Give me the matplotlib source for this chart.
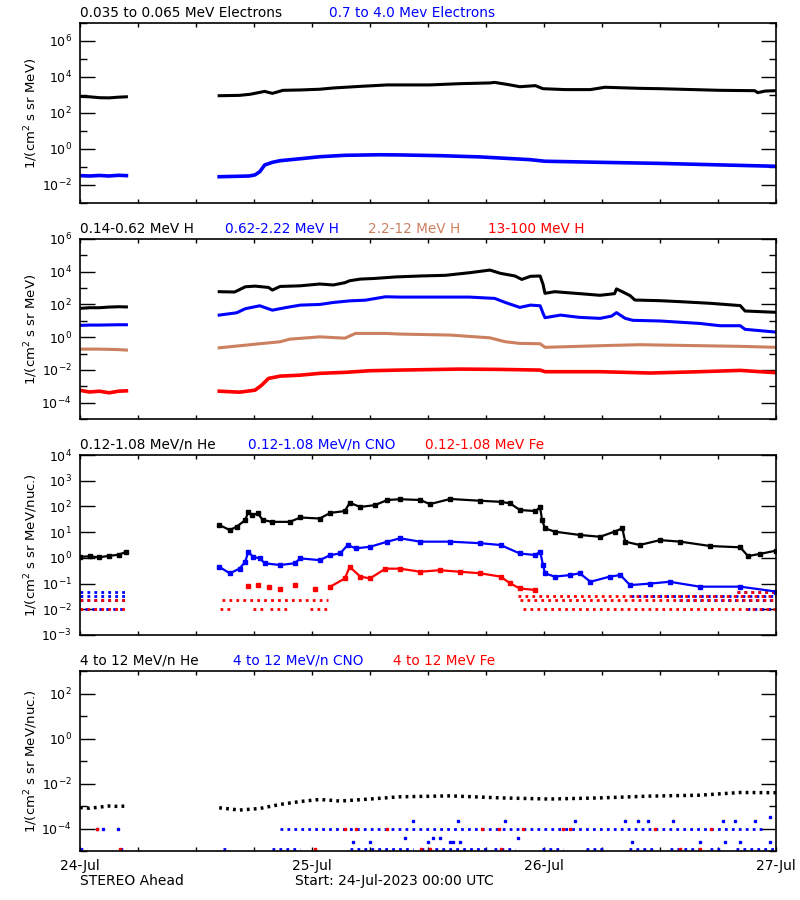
import numpy as np
import matplotlib
matplotlib.use('Agg')
import matplotlib.pyplot as plt
from matplotlib.ticker import FixedLocator, NullFormatter, NullLocator, LogFormatterMathtext

nan = np.nan

# ---------------- data (time in hours from 24-Jul-2023 00:00, values as log10) -------------
# Panel 1: electrons
elec_lo_t = [0, 1, 2, 3, 4, 4.8, 9.6, 14.4, 16.5, 17.6, 19.1, 19.9, 21.0, 22.8, 24.8, 26.2, 29.0, 31.8,
             36.2, 39.3, 42.4, 42.9, 44.5, 45.5, 47.1, 47.9, 50.2, 52.8, 54.3, 57.9, 60.0, 66.2, 69.8,
             70.1, 70.9, 72]
elec_lo_v = [2.92, 2.90, 2.85, 2.84, 2.88, 2.90, nan, 2.96, 2.98, 3.04, 3.20, 3.09, 3.26, 3.28, 3.32,
             3.39, 3.48, 3.56, 3.56, 3.63, 3.67, 3.70, 3.56, 3.46, 3.52, 3.35, 3.30, 3.30, 3.43, 3.37,
             3.35, 3.26, 3.24, 3.13, 3.22, 3.24]
elec_hi_t = [0, 1, 2, 3, 4, 4.8, 9.6, 14.4, 16.0, 17.5, 18.1, 18.6, 19.1, 19.9, 20.7, 22.8, 24.8, 27.4,
             31.0, 33.1, 37.2, 41.4, 46.5, 48.1, 53.8, 60.0, 65.2, 72]
elec_hi_v = [-1.48, -1.50, -1.47, -1.50, -1.46, -1.48, nan, -1.54, -1.52, -1.50, -1.44, -1.26, -0.89,
             -0.74, -0.65, -0.54, -0.43, -0.35, -0.32, -0.33, -0.37, -0.44, -0.59, -0.68, -0.74, -0.80,
             -0.87, -0.96]

# Panel 2: protons
h1_t = [0, 1, 2, 3, 4, 4.8, 9.6, 14.4, 16.0, 17.1, 18.1, 19.5, 19.9, 20.7, 22.8, 24.8, 26.2, 27.4, 27.9,
        29.0, 30.5, 32.6, 35.2, 37.8, 40.3, 42.4, 43.5, 45.0, 45.7, 46.6, 47.6, 47.9, 48.1, 49.1, 51.7,
        53.8, 55.3, 55.5, 56.1, 56.9, 57.4, 60.0, 62.1, 65.2, 68.3, 68.8, 72]
h1_v = [1.76, 1.80, 1.80, 1.84, 1.86, 1.85, nan, 2.78, 2.76, 3.08, 3.12, 3.04, 2.88, 3.10, 3.14, 3.25,
        3.19, 3.33, 3.45, 3.55, 3.59, 3.68, 3.74, 3.78, 3.94, 4.10, 3.90, 3.74, 3.53, 3.72, 3.74, 3.23,
        2.68, 2.78, 2.66, 2.56, 2.66, 2.95, 2.78, 2.54, 2.27, 2.23, 2.17, 2.07, 1.93, 1.60, 1.52]
h2_t = [0, 1, 2, 3, 4, 4.8, 9.6, 14.4, 16.2, 17.1, 18.6, 19.9, 21.2, 22.8, 24.8, 26.2, 27.9, 29.5, 31.6,
        33.1, 40.3, 42.9, 44.0, 45.5, 46.6, 47.6, 47.9, 48.1, 49.7, 51.7, 53.8, 55.0, 55.5, 56.4, 57.2,
        60.0, 64.1, 66.2, 68.3, 68.8, 72]
h2_v = [0.72, 0.74, 0.74, 0.75, 0.76, 0.76, nan, 1.35, 1.49, 1.74, 1.92, 1.65, 1.80, 1.96, 2.00, 2.12,
        2.22, 2.26, 2.47, 2.45, 2.45, 2.37, 2.12, 1.82, 1.96, 1.92, 1.46, 1.19, 1.35, 1.21, 1.15, 1.29,
        1.50, 1.15, 1.03, 0.99, 0.84, 0.70, 0.70, 0.48, 0.31]
h3_t = [0, 2, 4, 4.8, 9.6, 14.4, 18.6, 20.7, 21.7, 24.8, 27.4, 28.5, 31.6, 33.1, 38.3, 42.4, 44.0, 45.5,
        47.6, 48.1, 53.8, 57.9, 64.1, 68.3, 72]
h3_v = [-0.73, -0.73, -0.76, -0.79, nan, -0.65, -0.40, -0.28, -0.12, 0.02, -0.06, 0.23, 0.23, 0.19,
        0.13, -0.04, -0.28, -0.38, -0.40, -0.62, -0.52, -0.46, -0.52, -0.56, -0.62]
h4_t = [0, 1, 2, 3, 4, 4.8, 9.6, 14.4, 16.5, 18.1, 18.8, 19.5, 20.7, 22.8, 24.8, 27.4, 30.0, 33.1, 39.3,
        43.5, 47.6, 48.1, 53.8, 59.0, 64.1, 68.3, 72]
h4_v = [-3.25, -3.35, -3.30, -3.40, -3.30, -3.28, nan, -3.30, -3.36, -3.24, -2.93, -2.52, -2.38, -2.32,
        -2.21, -2.15, -2.05, -2.01, -1.95, -1.97, -2.01, -2.11, -2.11, -2.19, -2.11, -2.03, -2.17]

# Panel 3: low-energy heavy ions
he_lo_t = [0, 1, 2, 3, 4, 4.8, 9.6, 14.4, 15.5, 16.2, 17.1, 17.4, 17.8, 18.4, 18.9, 19.9, 21.7, 22.8,
           24.8, 25.9, 27.4, 27.9, 29.0, 30.5, 31.8, 33.1, 35.2, 36.2, 38.3, 41.4, 43.5, 44.5, 45.5,
           47.1, 47.6, 47.8, 48.1, 49.1, 51.7, 53.8, 55.3, 56.1, 56.4, 57.9, 60.0, 62.1, 65.2, 68.3,
           69.1, 70.3, 72]
he_lo_v = [0.04, 0.06, 0.02, 0.08, 0.12, 0.24, nan, 1.28, 1.08, 1.21, 1.47, 1.79, 1.66, 1.73, 1.47,
           1.40, 1.40, 1.57, 1.53, 1.75, 1.82, 2.14, 1.98, 2.05, 2.25, 2.28, 2.25, 2.09, 2.29, 2.22,
           2.18, 2.12, 1.86, 1.82, 1.96, 1.47, 1.15, 1.02, 0.89, 0.82, 1.02, 1.15, 0.63, 0.50, 0.69,
           0.63, 0.46, 0.41, 0.07, 0.15, 0.28]
cno_lo_t = [14.4, 15.5, 16.5, 17.1, 17.4, 17.9, 18.6, 19.1, 20.7, 22.2, 22.8, 24.8, 25.9, 26.9, 27.7,
            28.5, 30.0, 31.8, 33.1, 35.2, 38.3, 41.4, 43.5, 45.5, 47.1, 47.6, 47.9, 48.1, 49.1, 50.7,
            51.7, 52.8, 54.8, 55.9, 56.9, 59.0, 61.0, 64.1, 68.3, 72]
cno_lo_v = [-0.35, -0.60, -0.42, -0.15, 0.24, 0.04, -0.02, -0.21, -0.28, -0.21, -0.02, -0.09, 0.11,
            0.17, 0.50, 0.37, 0.43, 0.63, 0.76, 0.63, 0.63, 0.57, 0.50, 0.17, 0.11, 0.24, -0.28, -0.60,
            -0.73, -0.67, -0.60, -0.93, -0.73, -0.67, -1.06, -1.00, -0.93, -1.12, -1.12, -1.31]
fe_lo_t = [25.9, 27.4, 27.9, 29.0, 30.0, 31.6, 33.1, 35.2, 37.2, 39.3, 41.4, 43.5, 44.5, 45.5, 47.1]
fe_lo_v = [-1.12, -0.80, -0.35, -0.73, -0.80, -0.42, -0.42, -0.54, -0.48, -0.54, -0.60, -0.73, -0.99,
           -1.19, -1.25]
fe_lo_sparse_t = [17.4, 18.4, 19.5, 20.7, 22.2, 24.3]
fe_lo_sparse_v = [-1.10, -1.05, -1.15, -1.20, -1.05, -1.20]
# count-floor rows (level, start, end)
cno_lo_floor_lvl = [-1.34, -1.47, -1.64, -1.97, -1.47, -1.64, -1.34, -1.97]
cno_lo_floor_t0 = [0.0, 0.0, 0.0, 0.5, 57.0, 62.0, 68.0, 69.0]
cno_lo_floor_t1 = [4.8, 4.8, 4.8, 4.8, 72.0, 72.0, 72.0, 72.0]
fe_lo_floor_lvl = [-1.97, -1.64, -1.97, -1.97, -1.97, -1.97, -1.64, -1.97, -1.64, -1.47, -1.34]
fe_lo_floor_t0 = [0.0, 0.0, 14.5, 17.9, 19.7, 23.8, 14.7, 45.8, 45.5, 45.3, 68.0]
fe_lo_floor_t1 = [4.8, 4.8, 15.8, 18.9, 21.4, 25.9, 25.7, 72.0, 72.0, 72.0, 72.0]

# Panel 4: high-energy heavy ions
he_hi_t = [0, 1, 2, 3, 4, 4.8, 9.6, 14.4, 16.5, 18.6, 20.7, 22.8, 24.8, 26.9, 30.0, 33.1, 38.3, 43.5,
           48.6, 53.8, 59.0, 64.1, 68.3, 72]
he_hi_v = [-3.07, -3.10, -3.05, -3.00, -3.02, -3.00, nan, -3.08, -3.18, -3.11, -2.93, -2.80, -2.71,
           -2.78, -2.69, -2.59, -2.55, -2.64, -2.69, -2.64, -2.56, -2.52, -2.40, -2.41]
cno_hi_pts_t = [1.8, 2.4, 3.9, 28.2, 30.0, 33.6, 36.5, 37.2, 45.3, 36.0, 38.3, 38.6, 39.3, 57.1, 64.1,
                66.7, 68.3, 71.4, 34.4, 39.1, 44.0, 51.2, 56.4, 57.7, 58.8, 61.3, 66.5, 67.8, 69.8, 71.4]
cno_hi_pts_v = [-4.0, -4.0, -4.0, -4.6, -4.6, -4.42, -4.42, -4.42, -4.42, -4.6, -4.6, -4.6, -4.6, -4.6,
                -4.6, -4.6, -4.6, -4.6, -3.66, -3.66, -3.66, -3.66, -3.66, -3.66, -3.66, -3.66, -3.66,
                -3.66, -3.66, -3.5]
cno_hi_floor_lvl = [-4.0, -4.92, -4.92, -4.92, -4.92, -4.92, -4.92, -4.92, -4.92, -4.92, -4.92, -4.92,
                    -4.92, -4.92]
cno_hi_floor_t0 = [20.7, 0.0, 4.1, 19.9, 27.9, 35.3, 42.8, 47.8, 52.3, 56.8, 61.0, 65.2, 67.9, 14.8]
cno_hi_floor_t1 = [71.0, 0.7, 4.8, 22.8, 34.4, 42.1, 45.0, 50.0, 54.4, 59.6, 64.1, 66.2, 72.0, 15.2]
fe_hi_pts_t = [1.8, 27.4, 28.5, 31.8, 41.6, 43.3, 45.8, 50.0, 50.7, 59.5, 65.3,
               4.1, 24.3, 35.3, 36.2, 43.5, 62.1, 64.1]
fe_hi_pts_v = [-4.0, -4.0, -4.0, -4.0, -4.0, -4.0, -4.0, -4.0, -4.0, -4.0, -4.0,
               -4.92, -4.92, -4.92, -4.92, -4.92, -4.92, -4.92]

# titles
titles = [
    ["0.035 to 0.065 MeV Electrons", "0.7 to 4.0 Mev Electrons"],
    ["0.14-0.62 MeV H", "0.62-2.22 MeV H", "2.2-12 MeV H", "13-100 MeV H"],
    ["0.12-1.08 MeV/n He", "0.12-1.08 MeV/n CNO", "0.12-1.08 MeV Fe"],
    ["4 to 12 MeV/n He", "4 to 12 MeV/n CNO", "4 to 12 MeV Fe"],
]
ylabels = ["1/(cm$^2$ s sr MeV)", "1/(cm$^2$ s sr MeV)",
           "1/(cm$^2$ s sr MeV/nuc.)", "1/(cm$^2$ s sr MeV/nuc.)"]
day_labels = ["24-Jul", "25-Jul", "26-Jul", "27-Jul"]

# ---------------- styling -------------
BLK = '#000000'
BLU = '#0000ff'
BRN = '#cd805f'
RED = '#ff0000'
title_colors = [[BLK, BLU], [BLK, BLU, BRN, RED], [BLK, BLU, RED], [BLK, BLU, RED]]
title_x = [[80, 329], [80, 225, 368, 488], [80, 248, 425], [80, 233, 393]]

W, H = 800, 900
fig = plt.figure(figsize=(8, 9), dpi=100)

panel_px = [(23, 203), (239, 419), (455, 635), (671, 851)]
ylims = [(-3, 7), (-5, 6), (-3, 4), (-5, 3)]
majors = [[-2, 0, 2, 4, 6], [-4, -2, 0, 2, 4, 6], [-3, -2, -1, 0, 1, 2, 3, 4], [-4, -2, 0, 2]]
minors = [[-3, -1, 1, 3, 5, 7], [-5, -3, -1, 1, 3, 5], [], [-5, -3, -1, 1, 3]]

axes = []
for i, (top, bot) in enumerate(panel_px):
    ax = fig.add_axes([80 / W, 1 - bot / H, 696 / W, (bot - top) / H])
    ax.set_yscale('log')
    ax.set_xlim(0, 72)
    ax.set_ylim(10.0 ** ylims[i][0], 10.0 ** ylims[i][1])
    ax.yaxis.set_major_locator(FixedLocator([10.0 ** k for k in majors[i]]))
    ax.yaxis.set_minor_locator(FixedLocator([10.0 ** k for k in minors[i]]))
    ax.yaxis.set_major_formatter(LogFormatterMathtext())
    ax.yaxis.set_minor_formatter(NullFormatter())
    ax.tick_params(axis='y', which='major', direction='in', length=11, width=1,
                   left=True, right=True, labelsize=9, pad=6)
    ax.tick_params(axis='y', which='minor', direction='in', length=5, width=1,
                   left=True, right=True)
    ax.set_xticks(np.arange(0, 73, 6))
    ax.xaxis.set_minor_locator(NullLocator())
    ax.tick_params(axis='x', direction='in', length=3, width=1, top=True, bottom=True,
                   labelsize=10, pad=6)
    if i < 3:
        ax.set_xticklabels([])
    else:
        ax.set_xticklabels([day_labels[k // 4] if k % 4 == 0 else '' for k in range(13)])
    for s in ax.spines.values():
        s.set_linewidth(1.2)
    # titles
    for txt, col, xp in zip(titles[i], title_colors[i], title_x[i]):
        fig.text(xp / W, 1 - (top - 10) / H, txt, color=col, fontsize=9.8,
                 ha='left', va='center')
    fig.text(31 / W, 1 - (top + bot) / 2 / H, ylabels[i], rotation=90, fontsize=9.5,
             ha='center', va='center')
    axes.append(ax)

P = lambda v: np.power(10.0, np.asarray(v, dtype=float))

def floors(ax, lvls, t0s, t1s, color):
    for l, a, b in zip(lvls, t0s, t1s):
        ax.hlines(P(l), a, b, colors=color, linestyles=(0, (1, 1.5)), lw=2.0)

# panel 1
ax = axes[0]
ax.plot(elec_lo_t, P(elec_lo_v), color=BLK, lw=2.2)
ax.plot(elec_hi_t, P(elec_hi_v), color=BLU, lw=2.6)

# panel 2
ax = axes[1]
ax.plot(h1_t, P(h1_v), color=BLK, lw=2.2)
ax.plot(h2_t, P(h2_v), color=BLU, lw=2.2)
ax.plot(h3_t, P(h3_v), color=BRN, lw=2.2)
ax.plot(h4_t, P(h4_v), color=RED, lw=2.6)

# panel 3
ax = axes[2]
floors(ax, cno_lo_floor_lvl, cno_lo_floor_t0, cno_lo_floor_t1, BLU)
floors(ax, fe_lo_floor_lvl, fe_lo_floor_t0, fe_lo_floor_t1, RED)
ax.plot(he_lo_t, P(he_lo_v), color=BLK, lw=1.6, marker='s', ms=2.5)
ax.plot(cno_lo_t, P(cno_lo_v), color=BLU, lw=1.6, marker='s', ms=2.5)
ax.plot(fe_lo_t, P(fe_lo_v), color=RED, lw=1.6, marker='s', ms=2.5)
ax.plot(fe_lo_sparse_t, P(fe_lo_sparse_v), color=RED, ls='none', marker='s', ms=2.5)

# panel 4
ax = axes[3]
floors(ax, cno_hi_floor_lvl, cno_hi_floor_t0, cno_hi_floor_t1, BLU)
ax.plot(cno_hi_pts_t, P(cno_hi_pts_v), color=BLU, ls='none', marker='s', ms=2)
ax.plot(fe_hi_pts_t, P(fe_hi_pts_v), color=RED, ls='none', marker='s', ms=2)
ax.plot(he_hi_t, P(he_hi_v), color=BLK, lw=2.5, ls=(0, (0.8, 1.2)))

fig.text(80 / W, 1 - 881 / H, "STEREO Ahead", fontsize=10, ha='left', va='center')
fig.text(295 / W, 1 - 881 / H, "Start: 24-Jul-2023 00:00 UTC", fontsize=10, ha='left', va='center')

fig.savefig('out.png', dpi=100)
